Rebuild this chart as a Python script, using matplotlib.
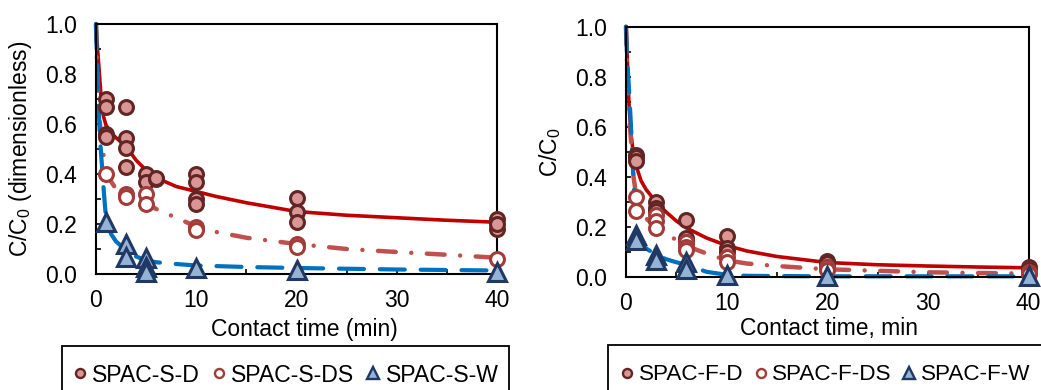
import matplotlib
matplotlib.use("Agg")
import matplotlib.pyplot as plt
from matplotlib.lines import Line2D
from matplotlib.patches import Rectangle
from matplotlib.ticker import MultipleLocator, FormatStrFormatter

plt.rcParams['font.family'] = ['Liberation Sans', 'DejaVu Sans']
plt.rcParams['mathtext.default'] = 'regular'
plt.rcParams['font.size'] = 16

# ---------------- data: left panel (SPAC-S) ----------------
s_d_t = [1, 1, 1, 1, 3, 3, 3, 3, 5, 5, 6, 6, 10, 10, 10, 10, 20, 20, 20, 40, 40, 40]
s_d_v = [0.70, 0.67, 0.56, 0.55, 0.67, 0.545, 0.505, 0.43, 0.40, 0.37, 0.38, 0.385,
         0.40, 0.37, 0.30, 0.28, 0.305, 0.25, 0.21, 0.22, 0.18, 0.20]
s_ds_t = [1, 3, 3, 5, 5, 10, 10, 20, 20, 40]
s_ds_v = [0.40, 0.32, 0.31, 0.32, 0.28, 0.19, 0.175, 0.12, 0.11, 0.06]
s_w_t = [1, 3, 3, 5, 5, 5, 10, 20, 40]
s_w_v = [0.21, 0.12, 0.07, 0.065, 0.03, 0.01, 0.025, 0.015, 0.01]

s_d_fit_t = [0, 0.1, 0.25, 0.5, 0.75, 1, 1.5, 2, 3, 4, 5, 6, 8, 10, 12, 15, 20, 25, 30, 35, 40]
s_d_fit_v = [1.0, 0.93, 0.85, 0.71, 0.63, 0.595, 0.565, 0.545, 0.51, 0.455, 0.415, 0.385,
             0.35, 0.33, 0.31, 0.285, 0.25, 0.235, 0.225, 0.215, 0.207]
s_ds_fit_t = [0, 0.1, 0.3, 0.5, 0.8, 1, 1.5, 2, 3, 4, 5, 6, 8, 10, 12, 15, 20, 25, 30, 35, 40]
s_ds_fit_v = [1.0, 0.84, 0.65, 0.55, 0.46, 0.42, 0.37, 0.34, 0.32, 0.30, 0.285, 0.26,
              0.225, 0.19, 0.168, 0.145, 0.12, 0.10, 0.088, 0.077, 0.065]
s_w_fit_t = [0, 0.1, 0.25, 0.4, 0.6, 0.8, 1, 1.5, 2, 3, 4, 5, 6, 8, 10, 15, 20, 30, 40]
s_w_fit_v = [1.0, 0.85, 0.68, 0.54, 0.43, 0.32, 0.22, 0.16, 0.13, 0.095, 0.07, 0.055,
             0.047, 0.04, 0.034, 0.028, 0.024, 0.018, 0.014]

# ---------------- data: right panel (SPAC-F) ----------------
f_d_t = [1, 1, 1, 3, 3, 3, 6, 6, 6, 10, 10, 10, 20, 20, 20, 40, 40, 40]
f_d_v = [0.49, 0.48, 0.465, 0.30, 0.275, 0.265, 0.23, 0.155, 0.14, 0.165, 0.115, 0.10,
         0.066, 0.056, 0.043, 0.043, 0.03, 0.022]
f_ds_t = [1, 1, 3, 3, 3, 6, 6, 6, 10, 10, 20, 20, 40, 40]
f_ds_v = [0.32, 0.265, 0.25, 0.225, 0.195, 0.14, 0.12, 0.11, 0.08, 0.06, 0.04, 0.03, 0.02, 0.015]
f_w_t = [1, 1, 3, 3, 6, 6, 10, 20, 40]
f_w_v = [0.17, 0.15, 0.09, 0.07, 0.06, 0.035, 0.01, 0.005, 0.005]

f_d_fit_t = [0, 0.1, 0.3, 0.5, 0.75, 1, 1.5, 2, 3, 4, 5, 6, 8, 10, 12, 15, 20, 25, 30, 35, 40]
f_d_fit_v = [1.0, 0.90, 0.69, 0.57, 0.49, 0.445, 0.385, 0.35, 0.30, 0.26, 0.225, 0.197,
             0.157, 0.127, 0.105, 0.083, 0.059, 0.05, 0.045, 0.041, 0.038]
f_ds_fit_t = [0, 0.1, 0.3, 0.6, 0.75, 1, 1.5, 2, 3, 4, 5, 6, 8, 10, 12, 15, 20, 25, 30, 35, 40]
f_ds_fit_v = [1.0, 0.84, 0.65, 0.49, 0.40, 0.33, 0.26, 0.235, 0.20, 0.17, 0.15, 0.125,
              0.095, 0.068, 0.055, 0.045, 0.032, 0.026, 0.02, 0.017, 0.015]
f_w_fit_t = [0, 0.1, 0.3, 0.5, 0.7, 0.85, 1, 1.5, 2, 3, 4, 5, 6, 8, 10, 12, 15, 20, 30, 40]
f_w_fit_v = [1.0, 0.88, 0.75, 0.6, 0.42, 0.3, 0.2, 0.14, 0.115, 0.09, 0.072, 0.06, 0.05,
             0.022, 0.01, 0.006, 0.005, 0.004, 0.004, 0.004]

x_ticks = [0, 10, 20, 30, 40]
left_labels = ['SPAC-S-D', 'SPAC-S-DS', 'SPAC-S-W']
right_labels = ['SPAC-F-D', 'SPAC-F-DS', 'SPAC-F-W']
left_xlabel = 'Contact time (min)'
right_xlabel = 'Contact time, min'
left_ylabel = 'C/C$_0$ (dimensionless)'
right_ylabel = 'C/C$_0$'

# ---------------- styles ----------------
RED = '#C00000'
LRED = '#C0504D'
BLUE = '#0070C0'
PINK = '#D99694'
DBROWN = '#632523'
OPEN_EDGE = '#A33B38'
TRI_FILL = '#95B3D7'
TRI_EDGE = '#1F3864'

W, H = 1041, 390
fig = plt.figure(figsize=(W / 100, H / 100), dpi=100)
axL = fig.add_axes([96 / W, (H - 274) / H, 401 / W, 250 / H])
axR = fig.add_axes([626 / W, (H - 277.3) / H, 402.5 / W, 250.6 / H])


def draw(ax, d, ds, w, dfit, dsfit, wfit):
    ax.plot(dfit[0], dfit[1], color=RED, lw=2.6, solid_capstyle='round', zorder=3, clip_on=False)
    ax.plot(dsfit[0], dsfit[1], color=LRED, lw=3.2, dashes=(4, 3.5, 0.01, 3.5),
            dash_capstyle='round', zorder=3, clip_on=False)
    ax.plot(wfit[0], wfit[1], color=BLUE, lw=3.0, dashes=(6, 3.8),
            dash_capstyle='round', zorder=3, clip_on=False)
    ax.plot(d[0], d[1], 'o', ms=10, mfc=PINK, mec=DBROWN, mew=2.2, ls='none', zorder=5, clip_on=False)
    ax.plot(ds[0], ds[1], 'o', ms=10, mfc='white', mec=OPEN_EDGE, mew=2.2, ls='none', zorder=5, clip_on=False)
    ax.plot(w[0], w[1], '^', ms=12.5, mfc=TRI_FILL, mec=TRI_EDGE, mew=2.2, ls='none', zorder=6, clip_on=False)
    ax.set_xlim(0, 40)
    ax.set_ylim(0, 1.0)
    ax.set_xticks(x_ticks)
    ax.xaxis.set_minor_locator(MultipleLocator(5))
    ax.yaxis.set_major_locator(MultipleLocator(0.2))
    ax.yaxis.set_minor_locator(MultipleLocator(0.1))
    ax.yaxis.set_major_formatter(FormatStrFormatter('%.1f'))
    ax.tick_params(axis='both', which='both', direction='in', length=3.5, width=1.2,
                   labelsize=16.5, colors='black')
    ax.tick_params(axis='y', which='major', pad=13.5)
    ax.tick_params(axis='x', which='major', pad=10.5)
    for sp in ax.spines.values():
        sp.set_linewidth(1.5)
        sp.set_color('black')
        sp.set_zorder(4)


draw(axL, (s_d_t, s_d_v), (s_ds_t, s_ds_v), (s_w_t, s_w_v),
     (s_d_fit_t, s_d_fit_v), (s_ds_fit_t, s_ds_fit_v), (s_w_fit_t, s_w_fit_v))
draw(axR, (f_d_t, f_d_v), (f_ds_t, f_ds_v), (f_w_t, f_w_v),
     (f_d_fit_t, f_d_fit_v), (f_ds_fit_t, f_ds_fit_v), (f_w_fit_t, f_w_fit_v))

axL.set_xlabel(left_xlabel, fontsize=16.5)
axL.xaxis.set_label_coords(0.52, -0.175)
axL.set_ylabel(left_ylabel, fontsize=16.5)
axL.yaxis.set_label_coords(-0.155, 0.5)
axR.set_xlabel(right_xlabel, fontsize=16.5)
axR.xaxis.set_label_coords(0.505, -0.16)
axR.set_ylabel(right_ylabel, fontsize=16.5)
axR.yaxis.set_label_coords(-0.157, 0.5)


def handles():
    return [Line2D([], [], marker='o', ls='none', ms=6.5, mfc=PINK, mec=DBROWN, mew=1.7),
            Line2D([], [], marker='o', ls='none', ms=6.5, mfc='white', mec=OPEN_EDGE, mew=1.7),
            Line2D([], [], marker='^', ls='none', ms=8, mfc=TRI_FILL, mec=TRI_EDGE, mew=1.7)]


for ax, labels, x0, fs, cs in ((axL, left_labels, 71, 16.6, 0.42),
                               (axR, right_labels, 618, 16.2, 0.36)):
    ax.legend(handles(), labels, ncol=3, loc='center left', frameon=False,
              bbox_to_anchor=(x0 / W, 1 - 375 / H), bbox_transform=fig.transFigure,
              borderaxespad=0, borderpad=0, handlelength=0.8, handletextpad=0.13,
              columnspacing=cs, fontsize=fs)

fig.patches.append(Rectangle((62 / W, -0.1), (509 - 62) / W, (H - 346) / H + 0.1,
                             transform=fig.transFigure, fill=False, ec='black', lw=1.3))
fig.patches.append(Rectangle((608 / W, -0.1), 0.6, (H - 345) / H + 0.1,
                             transform=fig.transFigure, fill=False, ec='black', lw=1.3))

fig.savefig('out.png', dpi=100)
